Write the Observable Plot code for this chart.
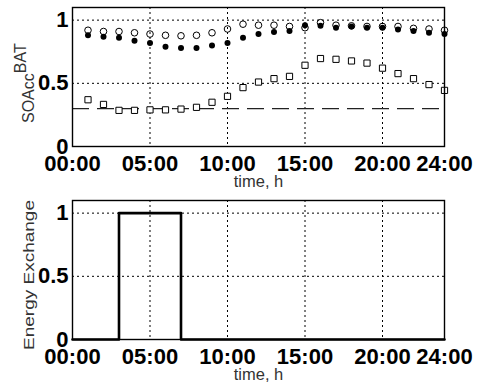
<!DOCTYPE html>
<html><head><meta charset="utf-8">
<script src="https://cdn.jsdelivr.net/npm/d3@7"></script>
<script src="https://cdn.jsdelivr.net/npm/@observablehq/plot@0.6"></script>
<style>
body{margin:0;background:#fff}
#c{width:480px;height:388px}
svg{display:block}
</style>
</head><body><div id="c"></div>
<script>
const hours = [1,2,3,4,5,6,7,8,9,10,11,12,13,14,15,16,17,18,19,20,21,22,23,24];
const socUpper = [0.92,0.91,0.91,0.90,0.89,0.88,0.876,0.88,0.90,0.93,0.968,0.96,0.96,0.95,0.94,0.98,0.96,0.955,0.95,0.95,0.95,0.935,0.93,0.92];
const socMid = [0.88,0.868,0.86,0.836,0.82,0.79,0.78,0.78,0.80,0.82,0.86,0.89,0.907,0.915,0.96,0.955,0.94,0.95,0.94,0.94,0.925,0.915,0.90,0.89];
const socLower = [0.37,0.333,0.286,0.286,0.29,0.29,0.296,0.31,0.35,0.397,0.466,0.51,0.537,0.555,0.643,0.696,0.69,0.677,0.66,0.62,0.577,0.537,0.49,0.444];
const socMin = [0.3];
const exchHours = [0,3,7,24];
const exchValues = [0,1,0,0];
const xTicks = [0,5,10,15,20,24];
const yTicks = [0,0.5,1];
const xGrid = [5,10,15,20];
const yGrid = [0.5,1];
const xLabel = "time, h";

const rows = hours.map((h,i) => ({h, upper: socUpper[i], mid: socMid[i], low: socLower[i]}));
const exch = exchHours.map((h,i) => ({h, v: exchValues[i]}));
const fmt = h => String(h).padStart(2,"0") + ":00";
const FONT = "Liberation Sans, Arial, Helvetica, sans-serif";

function base(marks, mt, mb) {
  return Plot.plot({
    width: 480, height: 194,
    marginLeft: 72, marginRight: 36, marginTop: mt, marginBottom: mb,
    style: {fontFamily: FONT, background: "#fff", color: "#000"},
    x: {domain: [0, 24]},
    y: {domain: [0, 1.1]},
    marks: [
      Plot.gridX(xGrid, {stroke: "#000", strokeOpacity: 1, strokeDasharray: "2,3", strokeWidth: 1}),
      Plot.gridY(yGrid, {stroke: "#000", strokeOpacity: 1, strokeDasharray: "2,3", strokeWidth: 1}),
      ...marks,
      Plot.frame({stroke: "#000", strokeWidth: 1.4}),
      Plot.axisX(xTicks, {tickSize: 0, tickPadding: 9, tickFormat: fmt, fontSize: 22, fontWeight: "bold", label: null}),
      Plot.axisY(yTicks, {tickSize: 0, tickPadding: 4, tickFormat: d => String(d), fontSize: 22, fontWeight: "bold", label: null}),
      Plot.text([xLabel], {text: d => d, frameAnchor: "bottom", dy: 40, fontSize: 16.5, fill: "#333"})
    ]
  });
}

const topChart = base([
  Plot.ruleY(socMin, {stroke: "#222", strokeWidth: 1.3, strokeDasharray: "17,8"}),
  Plot.dot(rows, {x: "h", y: "upper", r: 3.3, stroke: "#000", strokeWidth: 1, fill: "none"}),
  Plot.dot(rows, {x: "h", y: "mid", r: 3, fill: "#000", stroke: "none"}),
  Plot.dot(rows, {x: "h", y: "low", r: 3.5, symbol: "square", stroke: "#000", strokeWidth: 1, fill: "#fff"})
], 7, 48);

const bottomChart = base([
  Plot.line(exch, {x: "h", y: "v", curve: "step-after", stroke: "#000", strokeWidth: 2.6})
], 6, 49);

function ylab(svg, parts, x, y, size, len) {
  const t = d3.select(svg).append("text")
    .attr("transform", `translate(${x},${y}) rotate(-90)`)
    .attr("text-anchor", "start")
    .attr("font-family", FONT).attr("font-size", size).attr("fill", "#333");
  if (len) t.attr("textLength", len).attr("lengthAdjust", "spacingAndGlyphs");
  parts.forEach(([s, dy]) => t.append("tspan").attr("dy", dy).text(s));
}
ylab(topChart, [["SOAcc", 0], ["BAT", -8]], 34, 123, 16);
ylab(bottomChart, [["Energy Exchange", 0]], 34, 156, 15.5, 150);

document.getElementById("c").append(topChart, bottomChart);
</script>
</body></html>
